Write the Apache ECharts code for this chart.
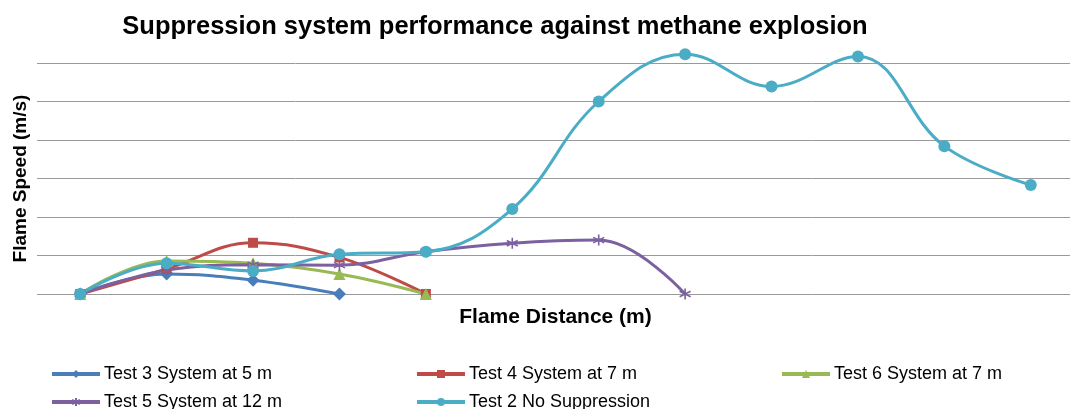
<!DOCTYPE html>
<html>
<head>
<meta charset="utf-8">
<script src="https://cdn.jsdelivr.net/npm/echarts@6/dist/echarts.min.js"></script>
<style>
  html, body { margin: 0; padding: 0; background: #ffffff; }
  #chart { width: 1070px; height: 409px; }
</style>
</head>
<body>
<div id="chart"></div>
<script>
// Measurement stations along the flame path (one category per station)
const stations = ['1', '2', '3', '4', '5', '6', '7', '8', '9', '10', '11', '12'];

// Flame speed readings, in grid units, per test
const test3 = [0, 0.52, 0.36, 0];
const test4 = [0, 0.65, 1.33, 0.95, 0];
const test6 = [0, 0.86, 0.80, 0.52, 0];
const test5 = [0, 0.62, 0.76, 0.75, 1.10, 1.32, 1.40, 0];
const test2 = [0, 0.80, 0.60, 1.03, 1.10, 2.21, 5.00, 6.23, 5.39, 6.17, 3.84, 2.83];

const seriesNames = [
  'Test 3 System at 5 m',
  'Test 4 System at 7 m',
  'Test 6 System at 7 m',
  'Test 5 System at 12 m',
  'Test 2 No Suppression'
];

const FONT = '"Liberation Sans", Arial, sans-serif';
const asterisk = 'path://M0,-6L0,6M-5.2,-3L5.2,3M-5.2,3L5.2,-3';

function line(name, data, color, symbol, size, extra) {
  return Object.assign({
    name: name,
    type: 'line',
    data: data,
    smooth: 0.4,
    clip: false,
    symbol: symbol,
    symbolSize: size,
    showSymbol: true,
    lineStyle: { color: color, width: 3 },
    itemStyle: { color: color, borderColor: color, borderWidth: 0 },
    emphasis: { disabled: true }
  }, extra || {});
}

const legendPos = [
  { left: 50, top: 365 },
  { left: 415, top: 365 },
  { left: 780, top: 365 },
  { left: 50, top: 393 },
  { left: 415, top: 393 }
];

const chart = echarts.init(document.getElementById('chart'), null, { renderer: 'canvas' });
chart.setOption({
  animation: false,
  backgroundColor: '#ffffff',
  title: {
    text: 'Suppression system performance against methane explosion',
    left: 490,
    textAlign: 'center',
    top: 9,
    textStyle: { fontFamily: FONT, fontSize: 25.5, fontWeight: 'bold', color: '#000000' }
  },
  legend: seriesNames.map((n, i) => ({
    data: [n],
    left: legendPos[i].left,
    top: legendPos[i].top,
    itemWidth: 48,
    itemHeight: 10,
    itemGap: 0,
    padding: 0,
    lineStyle: { width: 4 },
    textStyle: { fontFamily: FONT, fontSize: 18, color: '#000000', padding: [0, 0, 0, -1] },
    selectedMode: false
  })),
  grid: { left: 37, top: 63, width: 1037, height: 231, outerBoundsMode: 'none', containLabel: false },
  xAxis: {
    type: 'category',
    data: stations,
    boundaryGap: true,
    axisLine: { show: false },
    axisTick: { show: false },
    axisLabel: { show: false },
    name: 'Flame Distance (m)',
    nameLocation: 'middle',
    nameGap: 13,
    nameTextStyle: { fontFamily: FONT, fontSize: 21, fontWeight: 'bold', color: '#000000' }
  },
  yAxis: {
    type: 'value',
    min: 0,
    max: 6,
    interval: 1,
    axisLine: { show: false },
    axisTick: { show: false },
    axisLabel: { show: false },
    splitLine: { show: true, lineStyle: { color: '#9a9a9a', width: 1 } },
    name: 'Flame Speed (m/s)',
    nameLocation: 'middle',
    nameRotate: 90,
    nameGap: 7,
    nameTextStyle: { fontFamily: FONT, fontSize: 19, fontWeight: 'bold', color: '#000000' }
  },
  series: [
    line(seriesNames[0], test3, '#4a7ebb', 'diamond', 13),
    line(seriesNames[1], test4, '#be4b48', 'rect', 10),
    line(seriesNames[2], test6, '#98b954', 'triangle', 12),
    line(seriesNames[3], test5, '#7d60a0', asterisk, 11, {
      itemStyle: { color: '#7d60a0', borderColor: '#7d60a0', borderWidth: 1.6 }
    }),
    line(seriesNames[4], test2, '#4bacc6', 'circle', 12)
  ]
});
</script>
</body>
</html>
